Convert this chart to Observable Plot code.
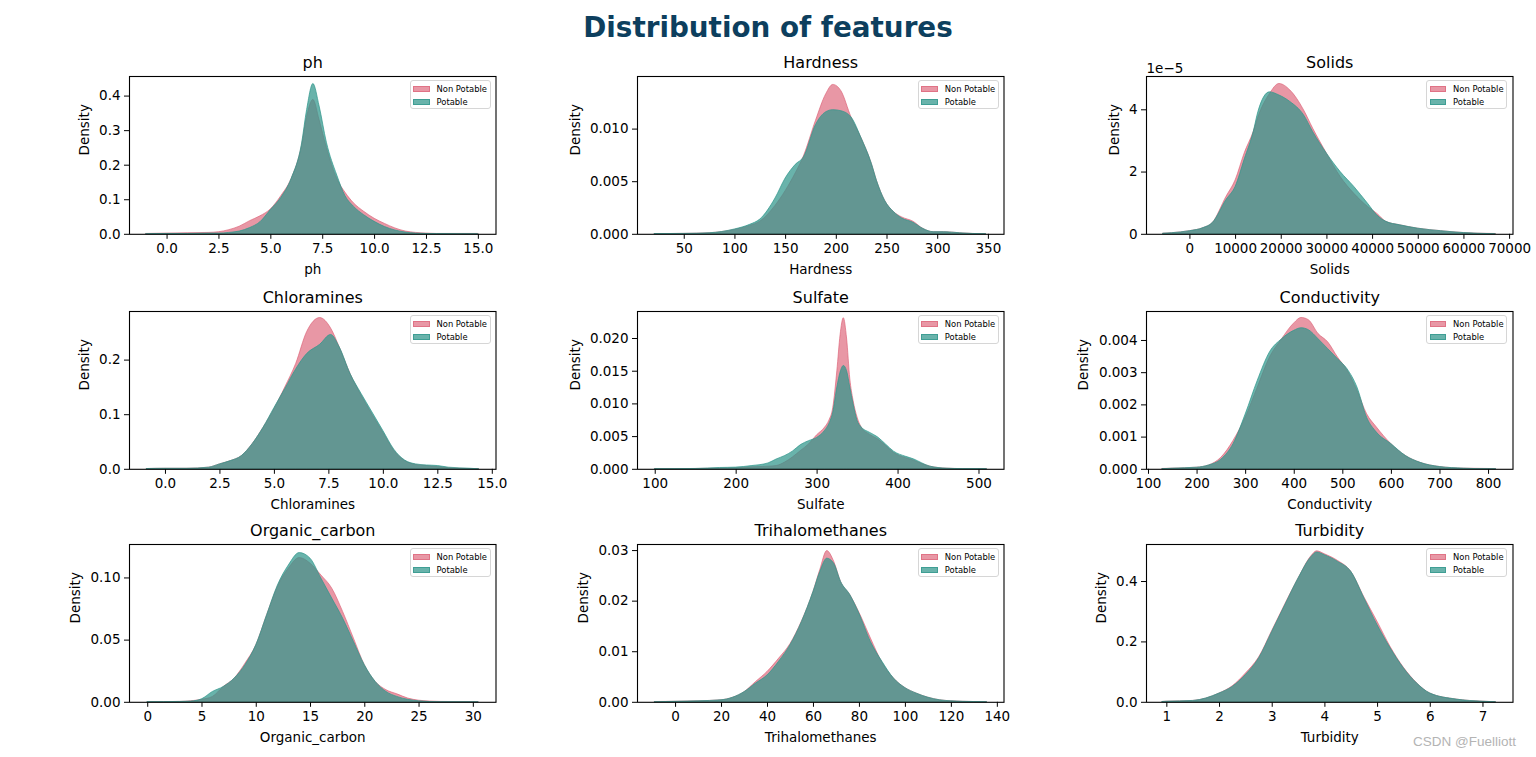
<!DOCTYPE html>
<html><head><meta charset="utf-8">
<script src="https://cdn.jsdelivr.net/npm/d3@7"></script>
<script src="https://cdn.jsdelivr.net/npm/@observablehq/plot@0.6"></script>
<style>
body{margin:0;background:#fff;font-family:"DejaVu Sans",sans-serif;}
#fig{position:relative;width:1536px;height:757px;overflow:hidden;background:#fff;}
.panel{position:absolute;}
.panel svg{overflow:visible;}
#title{position:absolute;left:0;width:1536px;top:13.5px;text-align:center;font-weight:bold;font-size:27.8px;line-height:27.8px;color:#0d3f5e;}
.legend{position:absolute;width:81px;height:29px;border:1px solid #d6d6d6;border-radius:3px;background:rgba(255,255,255,0.8);font-size:8.4px;color:#000;box-sizing:border-box;}
.legend .row{position:absolute;left:0;height:10px;line-height:10px;width:100%;}
.legend .patch{position:absolute;left:2.5px;top:2px;width:16.5px;height:6px;box-sizing:border-box;}
.legend .lab{position:absolute;left:26px;top:0;white-space:nowrap;}
#wm{position:absolute;left:1413px;top:734px;font-family:"Liberation Sans",Arial,sans-serif;font-size:13.5px;color:#b4b4b4;}
</style></head>
<body><div id="fig"><div id="title">Distribution of features</div><div id="wm">CSDN @Fuelliott</div></div>
<script>
// ---- data (densities) ----
const seriesNames = ["Non Potable", "Potable"];
const features = ["ph","Hardness","Solids","Chloramines","Sulfate","Conductivity","Organic_carbon","Trihalomethanes","Turbidity"];

const phX   = [-1, 0, 1, 2, 2.5, 3, 3.5, 4, 4.5, 5, 5.5, 6, 6.5, 6.75, 7.05, 7.35, 7.7, 8.2, 8.6, 9, 9.5, 10, 10.5, 11, 11.5, 12, 12.5, 13, 14, 15];
const phNon = [0.001, 0.002, 0.003, 0.004, 0.006, 0.012, 0.022, 0.038, 0.052, 0.072, 0.11, 0.16, 0.255, 0.34, 0.389, 0.33, 0.25, 0.16, 0.12, 0.09, 0.065, 0.045, 0.03, 0.017, 0.008, 0.004, 0.002, 0.001, 0.001, 0.001];
const phPot = [null, 0.001, 0.001, 0.002, 0.002, 0.004, 0.008, 0.018, 0.035, 0.07, 0.105, 0.16, 0.26, 0.36, 0.435, 0.37, 0.265, 0.17, 0.11, 0.08, 0.055, 0.036, 0.021, 0.011, 0.005, 0.002, 0.001, 0.0005, 0.0003, null];

const hardX   = [21, 50, 75, 100, 115, 125, 140, 150, 160, 168, 180, 190, 197, 205, 215, 225, 235, 240, 248, 257, 265, 276, 286, 296, 306, 322, 335, 348];
const hardNon = [0.00002, 0.00004, 0.0001, 0.00042, 0.0008, 0.0012, 0.0027, 0.0041, 0.0058, 0.0074, 0.0108, 0.0133, 0.0142, 0.0136, 0.0111, 0.0091, 0.0067, 0.0051, 0.0032, 0.0021, 0.0016, 0.0012, 0.0005, 0.0002, 0.0002, 0.0001, 0.00003, 0.00001];
const hardPot = [0.00002, 0.00004, 0.0001, 0.00046, 0.0009, 0.0014, 0.0034, 0.0053, 0.0066, 0.0073, 0.0104, 0.0116, 0.0118, 0.0117, 0.0111, 0.0091, 0.0067, 0.0051, 0.0032, 0.0021, 0.0015, 0.0011, 0.0005, 0.0002, 0.0002, 0.0001, 0.00003, 0.00001];

// Solids densities in units of 1e-5
const solX   = [-5800, -2000, 0, 3000, 5000, 8000, 10000, 12000, 14000, 15000, 17500, 19600, 22000, 25000, 27000, 30000, 33000, 36000, 39000, 41000, 43000, 46000, 50000, 55000, 60000, 63000, 67000];
const solNon = [0.02, 0.06, 0.1, 0.2, 0.36, 1.2, 1.73, 2.6, 3.3, 3.76, 4.5, 4.83, 4.62, 3.98, 3.39, 2.59, 1.84, 1.3, 0.88, 0.66, 0.4, 0.29, 0.18, 0.1, 0.04, 0.02, 0.01];
const solPot = [0.02, 0.06, 0.1, 0.2, 0.36, 1.1, 1.52, 2.4, 3.3, 3.93, 4.56, 4.46, 4.25, 3.82, 3.28, 2.59, 2.0, 1.52, 0.98, 0.61, 0.4, 0.29, 0.18, 0.1, 0.04, 0.02, null];

const chlX   = [-0.85, 0, 1, 2, 2.5, 3, 3.5, 4, 4.5, 5, 5.5, 6, 6.5, 7.1, 7.6, 8, 8.5, 9, 9.5, 10, 10.5, 11, 11.5, 12, 12.5, 13, 14, 14.4];
const chlNon = [0.0005, 0.001, 0.001, 0.003, 0.009, 0.015, 0.024, 0.046, 0.076, 0.11, 0.15, 0.193, 0.251, 0.277, 0.258, 0.223, 0.174, 0.135, 0.1, 0.067, 0.034, 0.015, 0.008, 0.006, 0.004, 0.002, 0.0005, 0.0002];
const chlPot = [0.0005, 0.001, 0.001, 0.003, 0.009, 0.015, 0.024, 0.046, 0.076, 0.112, 0.147, 0.183, 0.211, 0.228, 0.246, 0.223, 0.174, 0.138, 0.104, 0.07, 0.036, 0.016, 0.009, 0.007, 0.006, 0.003, 0.001, null];

const sulX   = [100, 150, 180, 200, 220, 240, 250, 260, 270, 280, 290, 300, 310, 315, 320, 325, 329, 333, 337, 341, 345, 350, 355, 365, 375, 385, 395, 410, 420, 430, 440, 460, 480, 510];
const sulNon = [0.00002, 0.00005, 0.0001, 0.00015, 0.0003, 0.0004, 0.0005, 0.001, 0.0018, 0.0028, 0.0038, 0.0052, 0.0064, 0.0074, 0.0094, 0.015, 0.0205, 0.0231, 0.02, 0.0138, 0.0105, 0.0079, 0.0064, 0.0053, 0.0046, 0.0036, 0.0025, 0.0017, 0.0013, 0.0008, 0.0004, 0.0001, 0.00003, 0.00001];
const sulPot = [0.00002, 0.00005, 0.0002, 0.00026, 0.0005, 0.0009, 0.0015, 0.002, 0.0027, 0.0037, 0.0043, 0.0048, 0.0059, 0.0069, 0.0087, 0.0125, 0.0148, 0.0158, 0.015, 0.0125, 0.01, 0.0074, 0.0064, 0.0056, 0.0049, 0.0038, 0.0027, 0.0019, 0.0015, 0.0009, 0.0004, 0.0001, 0.00003, 0.00001];

const conX   = [129, 150, 200, 225, 250, 275, 300, 325, 350, 375, 400, 415, 430, 450, 470, 490, 510, 530, 550, 570, 600, 630, 660, 700, 750, 800, 816];
const conNon = [0.00001, 0.00002, 0.00005, 0.00012, 0.00036, 0.00088, 0.0016, 0.00254, 0.00347, 0.00404, 0.00453, 0.0047, 0.00463, 0.0042, 0.00394, 0.00347, 0.00306, 0.00244, 0.00171, 0.0013, 0.00078, 0.00041, 0.0002, 0.00007, 0.00002, 0.00001, 0];
const conPot = [null, 0.00002, 0.00005, 0.00012, 0.0003, 0.00078, 0.0017, 0.00275, 0.00363, 0.00404, 0.0043, 0.00438, 0.00432, 0.00404, 0.00373, 0.00342, 0.0031, 0.00254, 0.0016, 0.00114, 0.00078, 0.00041, 0.0002, 0.00007, 0.00002, null, null];

const orgX   = [0, 3, 4, 5, 6, 7, 8, 9, 10, 11, 12, 13, 14, 15, 16, 17, 18, 19, 20, 21, 22, 23, 24, 25, 26, 27, 30, 30.5];
const orgNon = [0.0001, 0.0003, 0.0008, 0.002, 0.0043, 0.0123, 0.019, 0.031, 0.0458, 0.07, 0.093, 0.1075, 0.116, 0.1115, 0.102, 0.0914, 0.0727, 0.0512, 0.0298, 0.0164, 0.0097, 0.0064, 0.003, 0.0013, 0.0006, 0.0003, 0.0001, 0.0001];
const orgPot = [0.0001, 0.0003, 0.0006, 0.0024, 0.0083, 0.0123, 0.019, 0.0298, 0.0458, 0.07, 0.094, 0.11, 0.12, 0.1155, 0.0995, 0.0834, 0.0673, 0.0485, 0.0298, 0.0164, 0.0083, 0.0043, 0.002, 0.0008, 0.0002, null, null, null];

const triX   = [-9, -4, 0, 10, 20, 25, 30, 35, 40, 45, 50, 55, 60, 63, 66, 69, 72, 76, 80, 85, 90, 95, 100, 105, 110, 115, 120, 130, 135.6];
const triNon = [0.00005, 0.00008, 0.0001, 0.0002, 0.0004, 0.0009, 0.002, 0.004, 0.006, 0.0086, 0.0115, 0.016, 0.0218, 0.0262, 0.0299, 0.0278, 0.0238, 0.0212, 0.0177, 0.0126, 0.0078, 0.0047, 0.0028, 0.0017, 0.0009, 0.0004, 0.0002, 0.00005, 0.00001];
const triPot = [null, 0.00006, 0.0001, 0.0002, 0.0004, 0.0009, 0.002, 0.0037, 0.0053, 0.008, 0.0113, 0.0159, 0.0218, 0.0258, 0.0284, 0.0274, 0.0238, 0.0212, 0.0175, 0.0119, 0.008, 0.0047, 0.0028, 0.0017, 0.0009, 0.0004, 0.0002, 0.00005, 0.00001];

const turX   = [0.92, 1.0, 1.5, 2.0, 2.25, 2.5, 2.75, 3.0, 3.25, 3.5, 3.75, 3.85, 4.0, 4.25, 4.5, 4.75, 5.0, 5.25, 5.5, 5.75, 6.0, 6.5, 7.0, 7.25];
const turNon = [0.001, 0.002, 0.0045, 0.029, 0.053, 0.095, 0.148, 0.236, 0.325, 0.41, 0.485, 0.5, 0.49, 0.468, 0.432, 0.347, 0.266, 0.182, 0.114, 0.063, 0.029, 0.009, 0.002, 0];
const turPot = [0.001, 0.002, 0.0045, 0.029, 0.051, 0.09, 0.145, 0.233, 0.322, 0.41, 0.482, 0.496, 0.487, 0.465, 0.432, 0.344, 0.255, 0.178, 0.112, 0.062, 0.029, 0.009, 0.002, null];

// tick values
const phXTicks  = [0, 2.5, 5, 7.5, 10, 12.5, 15];
const phYTicks  = [0, 0.1, 0.2, 0.3, 0.4];
const hardXTicks = [50, 100, 150, 200, 250, 300, 350];
const hardYTicks = [0, 0.005, 0.01];
const solXTicks = [0, 10000, 20000, 30000, 40000, 50000, 60000, 70000];
const solYTicks = [0, 2, 4];
const chlXTicks = [0, 2.5, 5, 7.5, 10, 12.5, 15];
const chlYTicks = [0, 0.1, 0.2];
const sulXTicks = [100, 200, 300, 400, 500];
const sulYTicks = [0, 0.005, 0.01, 0.015, 0.02];
const conXTicks = [100, 200, 300, 400, 500, 600, 700, 800];
const conYTicks = [0, 0.001, 0.002, 0.003, 0.004];
const orgXTicks = [0, 5, 10, 15, 20, 25, 30];
const orgYTicks = [0, 0.05, 0.1];
const triXTicks = [0, 20, 40, 60, 80, 100, 120, 140];
const triYTicks = [0, 0.01, 0.02, 0.03];
const turXTicks = [1, 2, 3, 4, 5, 6, 7];
const turYTicks = [0, 0.2, 0.4];

// ---- drawing ----
const pink = "#dc5f74", teal = "#2f968b";
const pinkOp = 0.65, tealOp = 0.72;
const colLeft = [129, 637.3, 1145.6], rowTop = [76, 310.6, 544.3];
const FW = 366.5, FH = 157.8, ML = 90, MR = 12, MT = 40, MB = 50;
const fig = document.getElementById("fig");

function panel(p) {
  const rows = p.x.map((v, i) => ({x: v, non: p.non[i], pot: p.pot[i]}));
  const marks = [
    Plot.areaY(rows, {x: "x", y: "non", curve: "monotone-x", fill: pink, fillOpacity: pinkOp, stroke: pink, strokeOpacity: pinkOp, strokeWidth: 1}),
    Plot.areaY(rows, {x: "x", y: "pot", curve: "monotone-x", fill: teal, fillOpacity: tealOp, stroke: teal, strokeOpacity: tealOp, strokeWidth: 1}),
    Plot.frame({stroke: "black", strokeWidth: 1.1}),
    Plot.text([p.name], {frameAnchor: "top", dy: -8, lineAnchor: "bottom", fontSize: 16, fill: "black"}),
    Plot.text([p.name], {frameAnchor: "bottom", dy: 35, lineAnchor: "middle", fill: "black"}),
    Plot.text(["Density"], {frameAnchor: "left", dx: p.yl, rotate: -90, lineAnchor: "middle", fill: "black"})
  ];
  if (p.offset) marks.push(Plot.text([p.offset], {frameAnchor: "top-left", dy: -3, lineAnchor: "bottom", textAnchor: "start", fill: "black"}));
  const chart = Plot.plot({
    width: ML + FW + MR, height: MT + FH + MB,
    marginLeft: ML, marginRight: MR, marginTop: MT, marginBottom: MB,
    style: {fontSize: "13.5px", fontFamily: "DejaVu Sans, sans-serif", color: "black", background: "transparent", overflow: "visible"},
    x: {domain: p.xd, ticks: p.xt, tickFormat: p.xf, label: null, tickSize: 5, tickPadding: 4},
    y: {domain: [0, p.yTop], ticks: p.yt, tickFormat: p.yf, label: null, tickSize: 5, tickPadding: 4},
    marks
  });
  const div = document.createElement("div");
  div.className = "panel";
  const L = colLeft[p.col], T = rowTop[p.row];
  div.style.left = (L - ML) + "px";
  div.style.top = (T - MT) + "px";
  div.appendChild(chart);
  fig.appendChild(div);
  // legend
  const lg = document.createElement("div");
  lg.className = "legend";
  lg.style.left = (L + FW - 86) + "px";
  lg.style.top = (T + 4) + "px";
  const cols = [pink, teal], ops = [pinkOp, tealOp];
  seriesNames.forEach((s, i) => {
    const r = document.createElement("div");
    r.className = "row";
    r.style.top = (3 + i * 13) + "px";
    const pt = document.createElement("div");
    pt.className = "patch";
    const c = d3.color(cols[i]); c.opacity = ops[i];
    pt.style.background = c.formatRgb();
    pt.style.border = "1px solid " + c.formatRgb();
    const lb = document.createElement("span");
    lb.className = "lab"; lb.textContent = s;
    r.appendChild(pt); r.appendChild(lb); lg.appendChild(r);
  });
  fig.appendChild(lg);
}

const f1 = d3.format(".1f"), f3 = d3.format(".3f"), f2 = d3.format(".2f"), f0 = d3.format("d");
panel({name: features[0], col: 0, row: 0, x: phX, non: phNon, pot: phPot, xd: [-1.81, 15.85], xt: phXTicks, xf: f1, yTop: 0.4567, yt: phYTicks, yf: f1, yl: -45});
panel({name: features[1], col: 1, row: 0, x: hardX, non: hardNon, pot: hardPot, xd: [3.9, 365.4], xt: hardXTicks, xf: f0, yTop: 0.0150, yt: hardYTicks, yf: f3, yl: -62});
panel({name: features[2], col: 2, row: 0, x: solX, non: solNon, pot: solPot, xd: [-9505, 70745], xt: solXTicks, xf: f0, yTop: 5.07, yt: solYTicks, yf: f0, yl: -31.5, offset: "1e\u22125"});
panel({name: features[3], col: 0, row: 1, x: chlX, non: chlNon, pot: chlPot, xd: [-1.65, 15.17], xt: chlXTicks, xf: f1, yTop: 0.289, yt: chlYTicks, yf: f1, yl: -44.5});
panel({name: features[4], col: 1, row: 1, x: sulX, non: sulNon, pot: sulPot, xd: [78.1, 530.9], xt: sulXTicks, xf: f0, yTop: 0.02413, yt: sulYTicks, yf: f3, yl: -62});
panel({name: features[5], col: 2, row: 1, x: conX, non: conNon, pot: conPot, xd: [95.9, 850.3], xt: conXTicks, xf: f0, yTop: 0.0049, yt: conYTicks, yf: f3, yl: -62.5});
panel({name: features[6], col: 0, row: 2, x: orgX, non: orgNon, pot: orgPot, xd: [-1.68, 32.09], xt: orgXTicks, xf: f0, yTop: 0.1269, yt: orgYTicks, yf: f2, yl: -54});
panel({name: features[7], col: 1, row: 2, x: triX, non: triNon, pot: triPot, xd: [-16.56, 142.9], xt: triXTicks, xf: f0, yTop: 0.0312, yt: triYTicks, yf: f2, yl: -54});
panel({name: features[8], col: 2, row: 2, x: turX, non: turNon, pot: turPot, xd: [0.614, 7.57], xt: turXTicks, xf: f0, yTop: 0.5226, yt: turYTicks, yf: f1, yl: -44.7});
</script></body></html>
